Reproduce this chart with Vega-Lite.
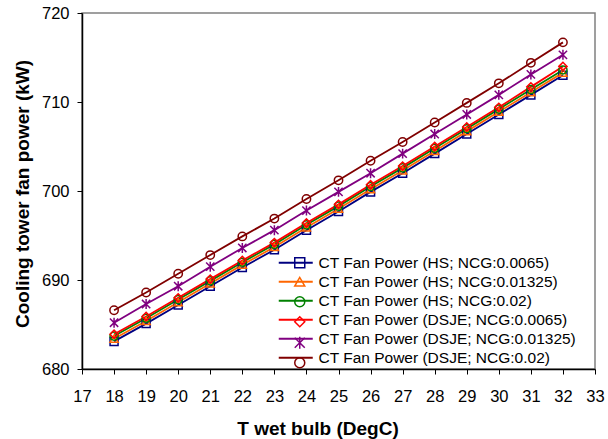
{
  "$schema": "https://vega.github.io/schema/vega-lite/v6.json",
  "width": 513,
  "height": 356,
  "autosize": {"type": "none"},
  "padding": {"left": 82, "top": 13, "right": 13, "bottom": 70},
  "background": "white",
  "config": {
    "font": "Liberation Sans",
    "view": {"stroke": "#808080", "strokeWidth": 1.5},
    "axis": {
      "grid": false,
      "domainColor": "black",
      "domainWidth": 1.5,
      "tickColor": "black",
      "tickWidth": 1,
      "tickSize": 5,
      "labelFont": "Liberation Sans",
      "labelFontSize": 16.5,
      "labelColor": "black",
      "titleFont": "Liberation Sans",
      "titleFontSize": 19,
      "titleFontWeight": "bold",
      "titleColor": "black"
    },
    "legend": {
      "labelFont": "Liberation Sans",
      "labelFontSize": 15.5,
      "labelColor": "black",
      "labelLimit": 400,
      "symbolStrokeWidth": 1.5,
      "padding": 0,
      "rowPadding": 2,
      "labelOffset": 15
    }
  },
  "data": {
    "values": [
      {"t": 18, "A": 683.1, "B": 683.4, "C": 683.7, "D": 683.9, "E": 685.2, "F": 686.6},
      {"t": 19, "A": 685.1, "B": 685.4, "C": 685.7, "D": 685.9, "E": 687.3, "F": 688.6},
      {"t": 20, "A": 687.2, "B": 687.5, "C": 687.8, "D": 688.0, "E": 689.3, "F": 690.7},
      {"t": 21, "A": 689.3, "B": 689.6, "C": 689.9, "D": 690.1, "E": 691.5, "F": 692.8},
      {"t": 22, "A": 691.4, "B": 691.7, "C": 692.0, "D": 692.2, "E": 693.6, "F": 694.9},
      {"t": 23, "A": 693.4, "B": 693.7, "C": 694.0, "D": 694.2, "E": 695.6, "F": 696.9},
      {"t": 24, "A": 695.6, "B": 695.9, "C": 696.2, "D": 696.4, "E": 697.8, "F": 699.1},
      {"t": 25, "A": 697.7, "B": 698.0, "C": 698.3, "D": 698.5, "E": 699.9, "F": 701.2},
      {"t": 26, "A": 699.9, "B": 700.2, "C": 700.5, "D": 700.7, "E": 702.0, "F": 703.4},
      {"t": 27, "A": 702.0, "B": 702.3, "C": 702.6, "D": 702.8, "E": 704.2, "F": 705.5},
      {"t": 28, "A": 704.2, "B": 704.5, "C": 704.8, "D": 705.0, "E": 706.4, "F": 707.7},
      {"t": 29, "A": 706.4, "B": 706.7, "C": 707.0, "D": 707.2, "E": 708.6, "F": 709.9},
      {"t": 30, "A": 708.6, "B": 708.9, "C": 709.2, "D": 709.4, "E": 710.8, "F": 712.1},
      {"t": 31, "A": 710.8, "B": 711.1, "C": 711.4, "D": 711.7, "E": 713.1, "F": 714.4},
      {"t": 32, "A": 713.0, "B": 713.3, "C": 713.6, "D": 714.0, "E": 715.3, "F": 716.7}
    ]
  },
  "transform": [{"fold": ["A", "B", "C", "D", "E", "F"], "as": ["k", "p"]}],
  "encoding": {
    "x": {
      "field": "t",
      "type": "quantitative",
      "scale": {"domain": [17, 33], "nice": false, "zero": false},
      "axis": {
        "values": [17, 18, 19, 20, 21, 22, 23, 24, 25, 26, 27, 28, 29, 30, 31, 32, 33],
        "title": "T wet bulb (DegC)",
        "labelPadding": 14,
        "titlePadding": 15,
        "titleX": 235.5,
        "labelFlush": false,
        "labelOverlap": false
      }
    },
    "y": {
      "field": "p",
      "type": "quantitative",
      "scale": {"domain": [680, 720], "nice": false, "zero": false},
      "axis": {
        "values": [680, 690, 700, 710, 720],
        "title": "Cooling tower fan power (kW)",
        "labelPadding": 8,
        "titlePadding": 9,
        "titleY": 180.5,
        "labelFlush": false
      }
    }
  },
  "resolve": {"legend": {"color": "independent", "shape": "independent"}},
  "layer": [
    {
      "mark": {"type": "line", "strokeWidth": 1.8},
      "encoding": {
        "color": {
          "field": "k",
          "type": "nominal",
          "scale": {
            "domain": ["A", "B", "C", "D", "E", "F"],
            "range": ["#000080", "#FF6600", "#008000", "#FF0000", "#800080", "#800000"]
          },
          "legend": {
            "title": null,
            "orient": "none",
            "legendX": 206,
            "legendY": 242,
            "symbolType": "M-3.4,0H3.4",
            "symbolSize": 100,
            "symbolStrokeWidth": 1.8,
            "labelExpr": "{'A':'CT Fan Power (HS; NCG:0.0065)','B':'CT Fan Power (HS; NCG:0.01325)','C':'CT Fan Power (HS; NCG:0.02)','D':'CT Fan Power (DSJE; NCG:0.0065)','E':'CT Fan Power (DSJE; NCG:0.01325)','F':'CT Fan Power (DSJE; NCG:0.02)'}[datum.value]"
          }
        }
      }
    },
    {
      "mark": {"type": "point", "filled": false, "strokeWidth": 1.5, "opacity": 1},
      "encoding": {
        "color": {
          "field": "k",
          "type": "nominal",
          "scale": {
            "domain": ["A", "B", "C", "D", "E", "F"],
            "range": ["#000080", "#FF6600", "#008000", "#FF0000", "#800080", "#800000"]
          },
          "legend": {
            "title": null,
            "orient": "none",
            "legendX": 210,
            "legendY": 242,
            "symbolSize": 100,
            "labelOpacity": 0,
            "labelExpr": "' '"
          }
        },
        "shape": {
          "field": "k",
          "type": "nominal",
          "scale": {
            "domain": ["A", "B", "C", "D", "E", "F"],
            "range": ["square", "triangle-up", "circle", "diamond", "M-1,-1L1,1M-1,1L1,-1M0,-1.2L0,1.2", "circle"]
          },
          "legend": null
        },
        "size": {
          "field": "k",
          "type": "ordinal",
          "scale": {
            "domain": ["A", "B", "C", "D", "E", "F"],
            "range": [64, 70, 64, 80, 80, 100]
          },
          "legend": null
        }
      }
    }
  ]
}
